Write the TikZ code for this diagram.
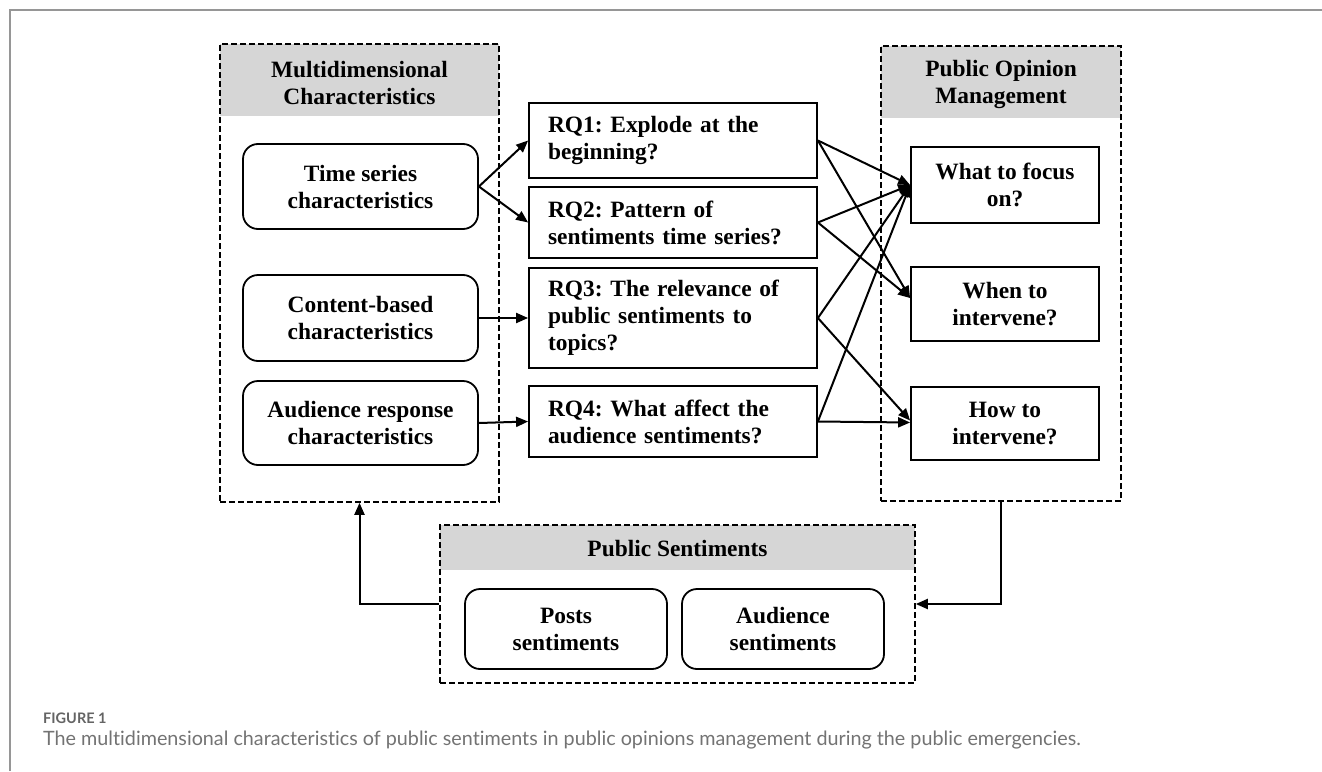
\documentclass[tikz,border=0pt]{standalone}
\usepackage{fontspec}
\setmainfont{Liberation Serif}
\newfontfamily\capfont{Lato}[Ligatures=NoCommon]
\usetikzlibrary{arrows.meta,calc}
\newcommand\diafont{\fontsize{23.4}{27}\selectfont\bfseries\frenchspacing}
\definecolor{hdrgray}{RGB}{214,214,214}
\definecolor{framegray}{RGB}{150,150,150}
\definecolor{capgray}{RGB}{115,115,115}
\definecolor{figgray}{RGB}{100,100,100}
\begin{document}
\begin{tikzpicture}[x=1pt,y=-1pt,
  rbox/.style={draw, line width=1.8pt, rounded corners=15pt, align=center, font=\diafont, inner sep=0pt},
  sbox/.style={draw, line width=1.8pt, align=center, font=\diafont, inner sep=0pt},
  qbox/.style={draw, line width=1.8pt, align=left, font=\diafont, inner xsep=19pt, inner ysep=0pt, text width=250pt},
  dbox/.style={draw, line width=1.6pt, dash pattern=on 6pt off 3pt, inner sep=0pt},
  htext/.style={align=center, font=\diafont, inner sep=0pt},
  arr/.style={line width=2pt, -{Triangle[length=12pt,width=10pt]}},
  capstyle/.style={anchor=west, inner sep=0pt}
]
\useasboundingbox (0,0) rectangle (1322,771);
% outer frame
\draw[framegray, line width=2pt] (10,771) -- (10,10) -- (1322,10);

% header fills
\fill[hdrgray] (220,44) rectangle (499,116);
\fill[hdrgray] (881,46) rectangle (1121,118);
\fill[hdrgray] (440,525) rectangle (915,570);

% dashed groups
\node[dbox, minimum width=279pt, minimum height=458pt] (multi) at (359.5,273) {};
\node[dbox, minimum width=240pt, minimum height=455pt] (mgmt) at (1001,273.5) {};
\node[dbox, minimum width=475pt, minimum height=158pt] (ps) at (677.5,604) {};

% headers
\node[htext] (multih) at (359.5,83) {Multidimensional\\Characteristics};
\node[htext] (mgmth) at (1001,84) {Public Opinion\\Management};
\node[htext] (psh) at (677.5,549) {Public Sentiments};

% left boxes
\node[rbox, minimum width=235pt, minimum height=85pt] (ts) at (360.5,186.5) {Time series\\characteristics};
\node[rbox, minimum width=235pt, minimum height=86pt] (cb) at (360.5,318) {Content-based\\characteristics};
\node[rbox, minimum width=235pt, minimum height=84pt] (ar) at (360.5,423) {Audience response\\characteristics};

% research questions
\node[qbox, minimum height=75pt] (rq1) at (673,140.5) {RQ1: Explode at the\\beginning?};
\node[qbox, minimum height=71pt] (rq2) at (673,222.5) {RQ2: Pattern of\\sentiments time series?};
\node[qbox, minimum height=100pt] (rq3) at (673,318) {RQ3: The relevance of\\public sentiments to\\topics?};
\node[qbox, minimum height=71pt] (rq4) at (673,421.5) {RQ4: What affect the\\audience sentiments?};

% management boxes
\node[sbox, minimum width=188pt, minimum height=76pt] (what) at (1005,185) {What to focus\\on?};
\node[sbox, minimum width=188pt, minimum height=74pt] (when) at (1005,304) {When to\\intervene?};
\node[sbox, minimum width=188pt, minimum height=73pt] (how) at (1005,423.5) {How to\\intervene?};

% sentiment boxes
\node[rbox, minimum width=202pt, minimum height=80pt] (posts) at (566,629) {Posts\\sentiments};
\node[rbox, minimum width=202pt, minimum height=80pt] (auds) at (783,629) {Audience\\sentiments};

% connectors
\draw[arr] (ts.east) -- (rq1.west);
\draw[arr] (ts.east) -- (rq2.west);
\draw[arr] (cb.east) -- (rq3.west);
\draw[arr] (ar.east) -- (rq4.west);

\draw[arr] (rq1.east) -- (what.west);
\draw[arr] (rq1.east) -- ([yshift=6pt]when.west);
\draw[arr] (rq2.east) -- (what.west);
\draw[arr] (rq2.east) -- ([yshift=6pt]when.west);
\draw[arr] (rq3.east) -- (what.west);
\draw[arr] (rq3.east) -- ([yshift=3pt]how.west);
\draw[arr] (rq4.east) -- (what.west);
\draw[arr] (rq4.east) -- ([yshift=1pt]how.west);

\draw[arr] (mgmt.south) |- (ps.east);
\draw[arr] (ps.west) -| (multi.south);

% caption
\node[capstyle, font=\capfont\bfseries\fontsize{14.5}{17}\selectfont, text=figgray] (fig) at (43,718) {FIGURE 1};
\node[capstyle, font=\capfont\fontsize{19.75}{23}\selectfont, text=capgray] (cap) at (43,740) {The multidimensional characteristics of public sentiments in public opinions management during the public emergencies.};
\end{tikzpicture}
\end{document}
